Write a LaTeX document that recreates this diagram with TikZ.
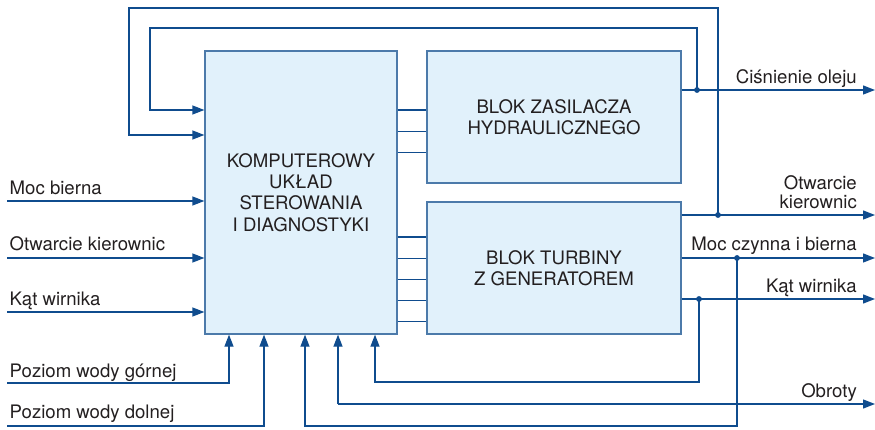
\documentclass[tikz,border=0pt]{standalone}
\usepackage{fontspec}
\setmainfont{TeX Gyre Heros}
\usetikzlibrary{arrows.meta}
\definecolor{ln}{HTML}{0F4C8E}
\definecolor{bd}{HTML}{4C7AAA}
\definecolor{fl}{HTML}{E1F1FB}
\definecolor{tx}{HTML}{231F20}
\begin{document}
\begin{tikzpicture}[x=1pt,y=-1pt,
 box/.style={draw=bd, fill=fl, line width=1.3pt, inner sep=0pt, align=center, text=tx, font=\fontsize{18.6}{21.3}\selectfont},
 wire/.style={draw=ln, line width=1.3pt},
 arr/.style={wire, -{Triangle[length=12pt,width=9pt]}},
 lbl/.style={inner sep=0pt, text=tx, font=\fontsize{18.6}{21.3}\selectfont},
 dot/.style={circle, fill=ln, inner sep=0pt, minimum size=5.5pt}]
\useasboundingbox (0,0) rectangle (875,430);

% blocks
\node[box, minimum width=192pt, minimum height=283pt] (main) at (301,192.5)
  {KOMPUTEROWY\\UKŁAD\\STEROWANIA\\I DIAGNOSTYKI};
\node[box, minimum width=254pt, minimum height=132pt] (hyd) at (554,117)
  {BLOK ZASILACZA\\HYDRAULICZNEGO};
\node[box, minimum width=254pt, minimum height=132pt] (tur) at (554,268)
  {BLOK TURBINY\\Z GENERATOREM};

% coordinates
\coordinate (h1) at (0,110);
\coordinate (h2) at (0,131.7);
\coordinate (h3) at (0,152.7);
\coordinate (g1) at (0,237);
\coordinate (g2) at (0,258.3);
\coordinate (g3) at (0,279.3);
\coordinate (g4) at (0,300.7);
\coordinate (g5) at (0,321.7);
\coordinate (yA) at (0,110);
\coordinate (yB) at (0,135);
\coordinate (t1) at (129,8);
\coordinate (t2) at (150,28);
\coordinate (yC) at (0,90);
\coordinate (yD) at (0,215);
\coordinate (yE) at (0,258);
\coordinate (yF) at (0,299);
\coordinate (oC) at (875,90);
\coordinate (oD) at (875,215);
\coordinate (oE) at (875,258);
\coordinate (oF) at (875,299);
\coordinate (oG) at (875,404);
\coordinate (b1) at (305,426);
\coordinate (b2) at (375,382);
\coordinate (b3) at (338,404);
\coordinate (x4) at (229,0);
\coordinate (x5) at (264,0);
\coordinate (i1) at (7,201);
\coordinate (i2) at (7,258);
\coordinate (i3) at (7,312);
\coordinate (i4) at (7,383);
\coordinate (i5) at (7,426);

% junction dots
\node[dot] (j1) at (697,90) {};
\node[dot] (j2) at (718,215) {};
\node[dot] (j3) at (737,258) {};
\node[dot] (j4) at (699,299) {};

% links between blocks
\foreach \c in {h1,h2,h3} \draw[wire] (main.east |- \c) -- (hyd.west |- \c);
\foreach \c in {g1,g2,g3,g4,g5} \draw[wire] (main.east |- \c) -- (tur.west |- \c);

% outputs
\draw[arr] (hyd.east |- yC) -- (oC);
\draw[arr] (tur.east |- yD) -- (oD);
\draw[arr] (tur.east |- yE) -- (oE);
\draw[arr] (tur.east |- yF) -- (oF);
\draw[arr] (b3) -- (oG);

% feedback loops
\draw[arr] (j1.center) |- (t2) |- (main.west |- yA);
\draw[arr] (j2.center) |- (t1) |- (main.west |- yB);
\draw[arr] (j3.center) |- (b1) -- (main.south -| b1);
\draw[arr] (j4.center) |- (b2) -- (main.south -| b2);
\draw[arr] (b3) -- (main.south -| b3);

% inputs
\draw[arr] (i1) -- (main.west |- i1);
\draw[arr] (i2) -- (main.west |- i2);
\draw[arr] (i3) -- (main.west |- i3);
\draw[arr] (i4) -| (main.south -| x4);
\draw[arr] (i5) -| (main.south -| x5);

% redraw dots on top
\foreach \j in {j1,j2,j3,j4} \fill[ln] (\j) circle (2.75pt);

% labels
\node[lbl, anchor=base west] (l1) at (9.5,194.3) {Moc bierna};
\node[lbl, anchor=base west] (l2) at (9.5,250.7) {Otwarcie kierownic};
\node[lbl, anchor=base west] (l3) at (9.5,305.7) {Kąt wirnika};
\node[lbl, anchor=base west] (l4) at (9.5,377) {Poziom wody górnej};
\node[lbl, anchor=base west] (l5) at (9.5,418) {Poziom wody dolnej};
\node[lbl, anchor=base east] (r1) at (857,84) {Ciśnienie oleju};
\node[lbl, anchor=south east, align=right, font=\fontsize{18.6}{19.5}\selectfont] (r2) at (857,209) {Otwarcie\\kierownic};
\node[lbl, anchor=base east] (r3) at (857,250.5) {Moc czynna i bierna};
\node[lbl, anchor=base east] (r4) at (857,292) {Kąt wirnika};
\node[lbl, anchor=base east] (r5) at (857,397) {Obroty};
\end{tikzpicture}
\end{document}
